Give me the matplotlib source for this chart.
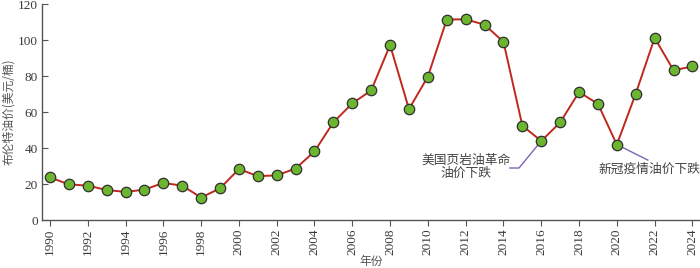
import matplotlib
matplotlib.use("Agg")
import matplotlib.pyplot as plt

plt.rcParams["font.family"] = ["Liberation Serif", "Noto Sans CJK SC"]

years = list(range(1990, 2025))
prices = [23.7, 19.8, 19.1, 16.7, 15.6, 16.9, 20.6, 19.1, 12.5, 17.6,
          28.3, 24.4, 24.8, 28.6, 38.1, 54.3, 64.8, 72.0, 97.2, 61.6,
          79.7, 111.4, 111.5, 108.5, 99.0, 52.4, 43.9, 54.2, 71.1, 64.5,
          41.9, 70.2, 101.2, 83.2, 85.3]
xticks = list(range(1990, 2025, 2))
yticks = [0, 20, 40, 60, 80, 100, 120]
ann1_text = "美国页岩油革命\n油价下跌"
ann2_text = "新冠疫情油价下跌"

CJK = ["Noto Sans CJK SC", "Liberation Serif"]
tc = "#3a3a3a"

fig = plt.figure(figsize=(7.0, 2.68), dpi=100)
ax = fig.add_axes([0.06, 0.179, 0.94, 0.806])

ax.plot(years, prices, color="#c0281e", lw=1.4, zorder=3,
        marker="o", markersize=7.5, markerfacecolor="#6cb52f",
        markeredgecolor="#2f2f2f", markeredgewidth=0.9)

ax.set_xlim(1989.58, 2024.4)
ax.set_ylim(0, 120)
ax.set_xticks(xticks)
ax.set_xticklabels([str(x) for x in xticks], rotation=90, fontsize=9.5,
                   color=tc)
ax.set_yticks(yticks)
ax.set_yticklabels([str(y) for y in yticks], fontsize=9.5, color=tc)
ax.tick_params(axis="y", direction="in", length=4, width=0.8, colors="#555555",
               labelcolor=tc, pad=3)
ax.tick_params(axis="x", direction="out", length=4, width=0.8, colors="#555555",
               labelcolor=tc, pad=2)
for s in ["top", "right"]:
    ax.spines[s].set_visible(False)
for s in ["left", "bottom"]:
    ax.spines[s].set_color("#555555")
    ax.spines[s].set_linewidth(1.0)

ax.set_xlabel("年份", family=CJK, fontsize=8.5, color="#555555", labelpad=0)
ax.set_ylabel("布伦特油价(美元/桶)", family=CJK, fontsize=8.5, color="#555555",
              labelpad=2)

lc = "#7d64b8"
# shale revolution annotation
ax.plot([2016, 2014.82, 2014.34], [prices[26], 28.9, 28.9], color=lc, lw=1.0,
        zorder=2)
ax.text(2012.0, 29.5, ann1_text, ha="center", va="center", family=CJK,
        fontsize=9.2, color="#444444", linespacing=1.0)
# covid annotation
ax.plot([2020, 2021.64], [prices[30], 33.3], color=lc, lw=1.0, zorder=2)
ax.text(2021.7, 28.0, ann2_text, ha="center", va="center", family=CJK,
        fontsize=9.2, color="#444444")

fig.savefig("out.png", dpi=100)
